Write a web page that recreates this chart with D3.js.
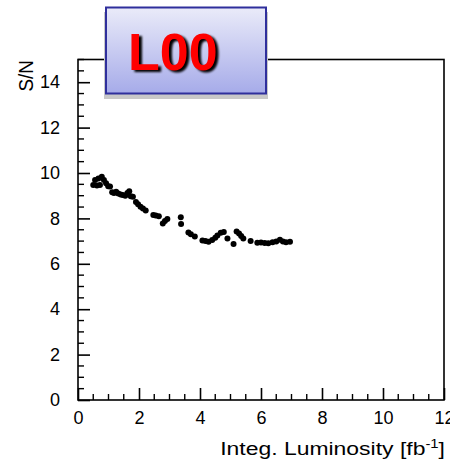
<!DOCTYPE html>
<html>
<head>
<meta charset="utf-8">
<script src="https://cdn.jsdelivr.net/npm/d3@7"></script>
<style>
html,body{margin:0;padding:0;background:#fff;}
svg{display:block;}
text{font-family:"Liberation Sans",Arial,Helvetica,sans-serif;}
</style>
</head>
<body>
<svg id="chart" width="450" height="462"></svg>
<script>
const lumi = [0.50,0.56,0.62,0.67,0.72,0.78,0.85,0.92,0.99,1.05,1.12,1.18,1.25,1.32,1.40,1.47,1.55,1.62,1.68,1.73,1.80,1.90,1.97,2.05,2.13,2.22,2.47,2.55,2.65,2.78,2.85,2.93,3.37,3.38,3.62,3.70,3.83,4.08,4.18,4.28,4.40,4.50,4.57,4.68,4.78,4.90,5.10,5.20,5.28,5.35,5.42,5.66,5.88,6.00,6.12,6.24,6.38,6.50,6.62,6.72,6.82,6.95];
const sn = [9.47,9.69,9.45,9.76,9.47,9.83,9.69,9.55,9.42,9.40,9.15,9.12,9.17,9.10,9.05,9.03,9.00,9.12,9.20,8.98,8.95,8.72,8.62,8.51,8.44,8.35,8.15,8.13,8.10,7.78,7.88,7.97,8.05,7.75,7.38,7.30,7.20,7.03,7.00,6.97,7.05,7.15,7.25,7.37,7.40,7.12,6.87,7.42,7.33,7.22,7.12,7.00,6.93,6.94,6.92,6.90,6.95,6.98,7.06,6.98,6.95,6.97];
const xTicks = [0,2,4,6,8,10,12];
const yTicks = [0,2,4,6,8,10,12,14];
const xTitle = "Integ. Luminosity [fb";
const yTitle = "S/N";
const labelText = "L00";

const svg = d3.select("#chart");
const L = 78, R = 444, T = 59.5, B = 400;
const x = d3.scaleLinear().domain([0,12]).range([L,R]);
const y = d3.scaleLinear().domain([0,15]).range([B,T]);

// frame
svg.append("rect").attr("x",L).attr("y",T).attr("width",R-L).attr("height",B-T)
  .attr("fill","none").attr("stroke","#000").attr("stroke-width",1.6);

// minor ticks
const xMinor = d3.range(0,12.01,0.5).filter(v=>!xTicks.includes(v));
const yMinor = d3.range(0,15.01,0.5).filter(v=>!yTicks.includes(v));
svg.append("g").selectAll("line").data(xMinor).join("line")
  .attr("x1",d=>x(d)).attr("x2",d=>x(d)).attr("y1",B).attr("y2",B-6)
  .attr("stroke","#000").attr("stroke-width",1.4);
svg.append("g").selectAll("line").data(yMinor).join("line")
  .attr("y1",d=>y(d)).attr("y2",d=>y(d)).attr("x1",L).attr("x2",L+6)
  .attr("stroke","#000").attr("stroke-width",1.4);

// major axes via d3
const xAxis = d3.axisBottom(x).tickValues(xTicks).tickSizeInner(-12).tickSizeOuter(0).tickPadding(20).tickFormat(d3.format("d"));
const gx = svg.append("g").attr("transform",`translate(0,${B})`).call(xAxis);
gx.select(".domain").remove();
gx.selectAll(".tick line").attr("stroke","#000").attr("stroke-width",1.6);
gx.selectAll(".tick text").attr("font-size",18).attr("fill","#000").attr("dy","0.2em")
  .attr("font-family","'Liberation Sans',Arial,sans-serif");

const yAxis = d3.axisLeft(y).tickValues(yTicks).tickSizeInner(-12).tickSizeOuter(0).tickPadding(18).tickFormat(d3.format("d"));
const gy = svg.append("g").attr("transform",`translate(${L},0)`).call(yAxis);
gy.select(".domain").remove();
gy.selectAll(".tick line").attr("stroke","#000").attr("stroke-width",1.6);
gy.selectAll(".tick text").attr("font-size",18).attr("fill","#000")
  .attr("font-family","'Liberation Sans',Arial,sans-serif");

// data points
svg.append("g").selectAll("circle").data(lumi.map((v,i)=>[v,sn[i]])).join("circle")
  .attr("cx",d=>x(d[0])).attr("cy",d=>y(d[1])).attr("r",3).attr("fill","#000");

// titles
const xt = svg.append("text").attr("transform",`translate(${R+1},455) scale(1.24,1)`).attr("text-anchor","end")
  .attr("font-size",18.5).attr("fill","#000");
xt.append("tspan").text(xTitle);
xt.append("tspan").attr("dy",-7).attr("font-size",12).text("-1");
xt.append("tspan").attr("dy",7).text("]");

svg.append("text").attr("transform","translate(33,60) rotate(-90) scale(1.05,1.15)").attr("text-anchor","end")
  .attr("font-size",18).attr("fill","#000").text(yTitle);

// label box
const defs = svg.append("defs");
const grad = defs.append("linearGradient").attr("id","boxg").attr("x1",0).attr("y1",0).attr("x2",0).attr("y2",1);
grad.append("stop").attr("offset","0%").attr("stop-color","#eaebf9");
grad.append("stop").attr("offset","100%").attr("stop-color","#a6abe9");
const f = defs.append("filter").attr("id","ts").attr("x","-20%").attr("y","-20%").attr("width","140%").attr("height","140%");
f.append("feGaussianBlur").attr("in","SourceAlpha").attr("stdDeviation",1);

svg.append("rect").attr("x",104).attr("y",12).attr("width",164).attr("height",87).attr("fill","#c8c8c8");
svg.append("rect").attr("x",106).attr("y",7.5).attr("width",160).attr("height",86)
  .attr("fill","url(#boxg)").attr("stroke","#2f2f9c").attr("stroke-width",2);
svg.append("text").attr("x",131).attr("y",72).attr("font-size",52).attr("font-weight","bold")
  .attr("fill","#222").attr("filter","url(#ts)").text(labelText);
svg.append("text").attr("x",128).attr("y",69.5).attr("font-size",52).attr("font-weight","bold")
  .attr("fill","#ff0000").text(labelText);
</script>
</body>
</html>
